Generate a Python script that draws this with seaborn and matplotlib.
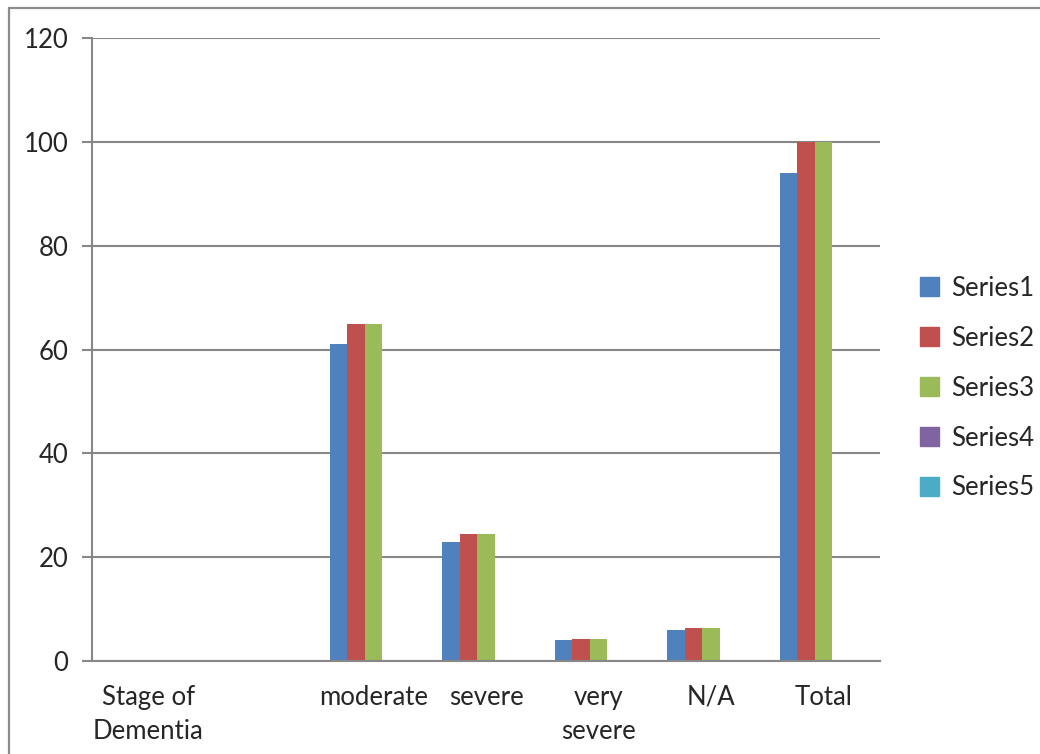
import numpy as np
import pandas as pd
import matplotlib
matplotlib.use("Agg")
import matplotlib.pyplot as plt
from matplotlib.lines import Line2D
import seaborn as sns

categories = ["Stage of\nDementia", "", "moderate", "severe", "very\nsevere", "N/A", "Total"]
series_names = ["Series1", "Series2", "Series3", "Series4", "Series5"]
series1 = [0, 0, 61, 23, 4, 6, 94]
series2 = [0, 0, 64.9, 24.5, 4.3, 6.4, 100]
series3 = [0, 0, 64.9, 24.5, 4.3, 6.4, 100]
series4 = [0, 0, 0, 0, 0, 0, 0]
series5 = [0, 0, 0, 0, 0, 0, 0]
y_ticks = [0, 20, 40, 60, 80, 100, 120]

colors = ["#4F81BD", "#C0504D", "#9BBB59", "#8064A2", "#4BACC6"]
grid_gray = "#878787"

sns.set_theme(style="white")
plt.rcParams["font.family"] = ["Lato", "DejaVu Sans"]

# Category keys must be unique, so the blank category gets a placeholder key
cat_keys = [f"c{i}" for i in range(len(categories))]
rows = []
for name, vals in zip(series_names, [series1, series2, series3, series4, series5]):
    for key, v in zip(cat_keys, vals):
        rows.append({"category": key, "series": name, "value": v})
df = pd.DataFrame(rows)

fig = plt.figure(figsize=(10.4, 7.54), dpi=100)
ax = fig.add_axes([92 / 1040, 1 - 661 / 754, (880 - 92) / 1040, (661 - 38) / 754])

sns.barplot(data=df, x="category", y="value", hue="series", order=cat_keys,
            hue_order=series_names, palette=colors, width=0.78, saturation=1,
            linewidth=0, errorbar=None, ax=ax)

ax.set_xlim(-0.5, len(categories) - 0.5)
ax.set_ylim(0, 120)
ax.set_yticks(y_ticks)
ax.set_yticklabels([str(t) for t in y_ticks], fontsize=18.5)
ax.set_xticks(range(len(categories)))
ax.set_xticklabels(categories, fontsize=18.5, linespacing=1.45)
ax.set_xticks(np.arange(-0.5, len(categories), 1.0), minor=True)
ax.tick_params(axis="x", which="major", length=0, pad=17)
ax.tick_params(axis="x", which="minor", length=7, width=1.5, color=grid_gray, direction="out")
ax.tick_params(axis="y", length=7, width=1.5, color=grid_gray, direction="out", pad=10, left=True)
ax.set_xlabel("")
ax.set_ylabel("")

ax.yaxis.grid(True, color=grid_gray, linewidth=1.5)
ax.set_axisbelow(True)
for side in ["top", "right"]:
    ax.spines[side].set_visible(False)
for side in ["left", "bottom"]:
    ax.spines[side].set_color(grid_gray)
    ax.spines[side].set_linewidth(1.5)

handles = [plt.Rectangle((0, 0), 1, 1, color=c) for c in colors]
ax.legend(handles, series_names, loc="center left", bbox_to_anchor=(1.038, 0.438),
          frameon=False, fontsize=18.5, handlelength=0.75, handleheight=0.75,
          handletextpad=0.45, labelspacing=0.97, borderaxespad=0)

# Outer chart border
fig.add_artist(Line2D([9 / 1040, 1.0], [1 - 8 / 754, 1 - 8 / 754], color="#8c8c8c",
                      linewidth=1.6, transform=fig.transFigure))
fig.add_artist(Line2D([9 / 1040, 9 / 1040], [0.0, 1 - 8 / 754], color="#8c8c8c",
                      linewidth=1.6, transform=fig.transFigure))

fig.savefig("out.png", dpi=100)
